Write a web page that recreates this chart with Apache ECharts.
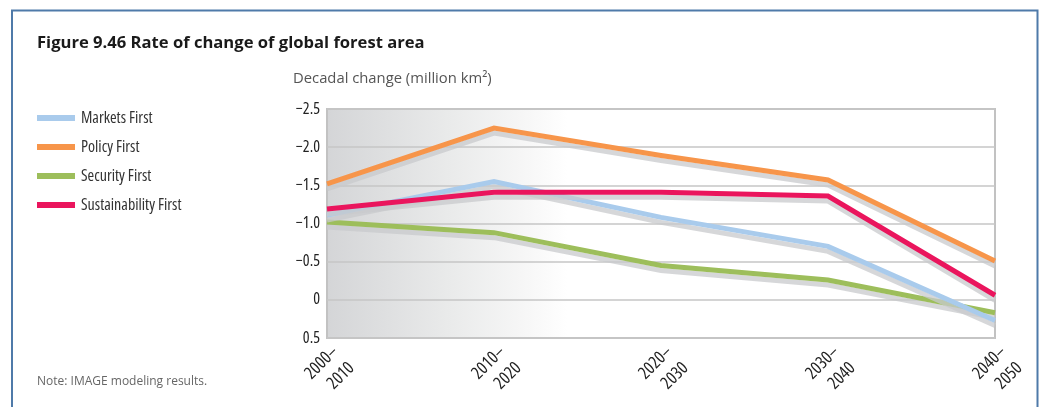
<!DOCTYPE html>
<html>
<head>
<meta charset="utf-8">
<script src="https://cdn.jsdelivr.net/npm/echarts@6/dist/echarts.min.js"></script>
<style>html,body{margin:0;padding:0;background:#fff}#c{width:1039px;height:407px}</style>
</head>
<body>
<div id="c"></div>
<script>
var categories = ['2000–\n2010', '2010–\n2020', '2020–\n2030', '2030–\n2040', '2040–\n2050'];
var marketsFirst = [-1.11, -1.55, -1.08, -0.70, 0.27];
var policyFirst = [-1.52, -2.25, -1.89, -1.57, -0.51];
var securityFirst = [-1.02, -0.88, -0.45, -0.26, 0.17];
var sustainabilityFirst = [-1.19, -1.41, -1.41, -1.36, -0.06];
var yTicks = { min: -2.5, max: 0.5, interval: 0.5 };

var condFamily = "'Open Sans', sans-serif";
var condWeight = 'normal condensed';
var chart = echarts.init(document.getElementById('c'));
function mk(name, data, color) {
  return {
    name: name, type: 'line', data: data, symbol: 'none', smooth: false,
    color: color,
    lineStyle: { width: 5, color: color, shadowColor: 'rgba(200,201,204,0.75)', shadowBlur: 0, shadowOffsetY: 5, cap: 'butt', join: 'miter' },
    emphasis: { disabled: true }
  };
}
chart.setOption({
  animation: false,
  title: [
    { text: 'Figure 9.46 Rate of change of global forest area', left: 37, top: 35, padding: 0,
      textStyle: { fontFamily: "'Open Sans', sans-serif", fontWeight: 'bold', fontSize: 16.6, color: '#1a1a1a' } },
    { text: 'Decadal change (million km²)', left: 293, top: 71, padding: 0,
      textStyle: { fontFamily: "'Open Sans', sans-serif", fontWeight: 'normal', fontSize: 14.8, color: '#555' } },
    { text: 'Note: IMAGE modeling results.', left: 37, top: 376, padding: 0,
      textStyle: { fontFamily: "'Open Sans', sans-serif", fontWeight: 'normal', fontSize: 12, color: '#666' } }
  ],
  legend: {
    orient: 'vertical', left: 37, top: 109, itemWidth: 38, itemHeight: 6, itemGap: 11, padding: 0,
    icon: 'rect',
    data: ['Markets First', 'Policy First', 'Security First', 'Sustainability First'],
    textStyle: { fontFamily: condFamily, fontWeight: condWeight, fontSize: 16, color: '#333', lineHeight: 18, padding: [0, 0, 0, 1] }
  },
  grid: {
    left: 327, right: 44, top: 109, bottom: 69, show: true,
    borderColor: '#c2c2c2', borderWidth: 2,
    backgroundColor: new echarts.graphic.LinearGradient(0, 0, 1, 0, [
      { offset: 0, color: '#d4d5d7' }, { offset: 0.18, color: '#e9eaea' }, { offset: 0.3, color: '#f7f7f7' }, { offset: 0.36, color: '#ffffff' }, { offset: 1, color: '#ffffff' }
    ])
  },
  xAxis: {
    type: 'category', data: categories, boundaryGap: false,
    axisLine: { show: false }, axisTick: { show: false }, splitLine: { show: false },
    axisLabel: { rotate: 45, margin: 3, fontFamily: condFamily, fontWeight: condWeight, fontSize: 17.5, color: '#222', lineHeight: 23, interval: 0, align: 'right', verticalAlign: 'top' }
  },
  yAxis: {
    type: 'value', inverse: true, min: yTicks.min, max: yTicks.max, interval: yTicks.interval,
    axisLine: { show: false }, axisTick: { show: false },
    splitLine: { lineStyle: { color: '#c6c6c6', width: 1.5 } },
    axisLabel: { margin: 7, fontFamily: condFamily, fontWeight: condWeight, fontSize: 16, color: '#222',
      formatter: function (v) { if (Math.abs(v) < 1e-9) return '0'; return (v < 0 ? '−' : '') + Math.abs(v).toFixed(1); } }
  },
  series: [
    mk('Security First', securityFirst, '#9dbe5b'),
    mk('Markets First', marketsFirst, '#a9cbec'),
    mk('Sustainability First', sustainabilityFirst, '#ea155d'),
    mk('Policy First', policyFirst, '#f7954a')
  ],
  graphic: [
    { type: 'polyline', silent: true, shape: { points: [[12, 407], [12, 10.5], [1037.5, 10.5], [1037.5, 407]] },
      style: { stroke: '#4f7aa9', lineWidth: 2, fill: null } }
  ]
});
</script>
</body>
</html>
